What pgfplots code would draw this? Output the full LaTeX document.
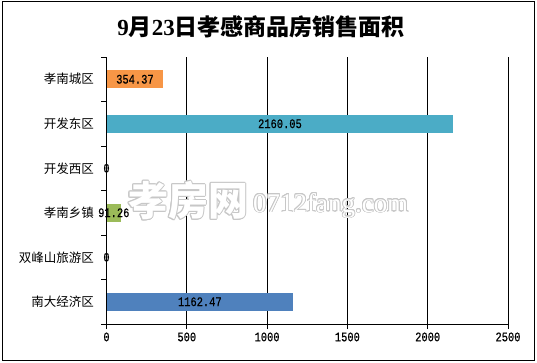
\documentclass[border=0pt]{standalone}
\usepackage{fontspec}
\usepackage{graphicx}
\usepackage{pgfplots}
\pgfplotsset{compat=1.18}
\usepackage{pgfplotstable}
\usepackage{contour}
\setmainfont{Liberation Serif}
\newfontfamily\cjk{Noto Sans CJK SC}
\newfontfamily\mono{Liberation Mono}[FakeStretch=0.8, FakeBold=0.6]
\newfontfamily\wserif{Liberation Serif}
\definecolor{corange}{HTML}{F79646}
\definecolor{cteal}{HTML}{4BACC6}
\definecolor{cgreen}{HTML}{9BBB59}
\definecolor{cblue}{HTML}{4F81BD}
\pgfplotstableread{
pos v label
0 354.37 354.37
1 2160.05 2160.05
2 0 0
3 91.26 91.26
4 0 0
5 1162.47 1162.47
}\datatable
\begin{document}
\begin{tikzpicture}
\path (0pt,0pt) rectangle (537pt,362pt);
\draw[line width=1pt] (2pt,1.5pt) rectangle (534.5pt,360pt);
\node[font=\cjk\bfseries\fontsize{23}{23}\selectfont] at (261pt,335pt) {{\wserif\bfseries 9}月{\wserif\bfseries 23}日孝感商品房销售面积};
\begin{axis}[
  at={(106.5pt,38pt)}, anchor=south west, scale only axis,
  width=401.5pt, height=267pt,
  xmin=0, xmax=2500, ymin=-0.5, ymax=5.5, y dir=reverse,
  xtick={0,500,1000,1500,2000,2500},
  xticklabels={0,500,1000,1500,2000,2500},
  xticklabel style={font=\mono\fontsize{13}{13}\selectfont},
  ytick={-0.5,0.5,1.5,2.5,3.5,4.5,5.5},
  yticklabels={},
  extra y ticks={0,1,2,3,4,5},
  extra y tick labels={孝南城区,开发东区,开发西区,孝南乡镇,双峰山旅游区,南大经济区},
  extra y tick style={major tick length=0pt},
  yticklabel style={font=\cjk\fontsize{12.5}{12.5}\selectfont, xshift=-9pt},
  axis lines=left, axis line style={-, line width=0.9pt},
  xmajorgrids, major grid style={black, line width=0.9pt},
  tick style={black, line width=0.9pt},
  tick align=outside, major tick length=5pt,
  clip=false,
  every node near coord/.append style={anchor=center, text=black, font=\mono\fontsize{13}{13}\selectfont},
]
\addplot[xbar, bar width=18pt, bar shift=0pt, fill=corange, draw=none] coordinates {(354.37,0)};
\addplot[xbar, bar width=18pt, bar shift=0pt, fill=cteal, draw=none] coordinates {(2160.05,1)};
\addplot[xbar, bar width=18pt, bar shift=0pt, fill=cgreen, draw=none] coordinates {(91.26,3)};
\addplot[xbar, bar width=18pt, bar shift=0pt, fill=cblue, draw=none] coordinates {(1162.47,5)};
\addplot[draw=none, mark=none, nodes near coords, point meta=explicit symbolic]
  table[x expr=\thisrow{v}/2, y=pos, meta=label] {\datatable};
\end{axis}
\contourlength{0.8pt}
\node[font=\cjk\bfseries\fontsize{40}{40}\selectfont, inner sep=0pt, anchor=west] at (128pt,161pt) {\resizebox{120pt}{!}{\color{white}\contour{black!22}{孝房网}}};
\node[font=\wserif\fontsize{28}{28}\selectfont, inner sep=0pt, anchor=base west] at (253pt,150pt) {\resizebox{155pt}{!}{\color{white}\contour{black!22}{0712fang.com}}};
\end{tikzpicture}
\end{document}
